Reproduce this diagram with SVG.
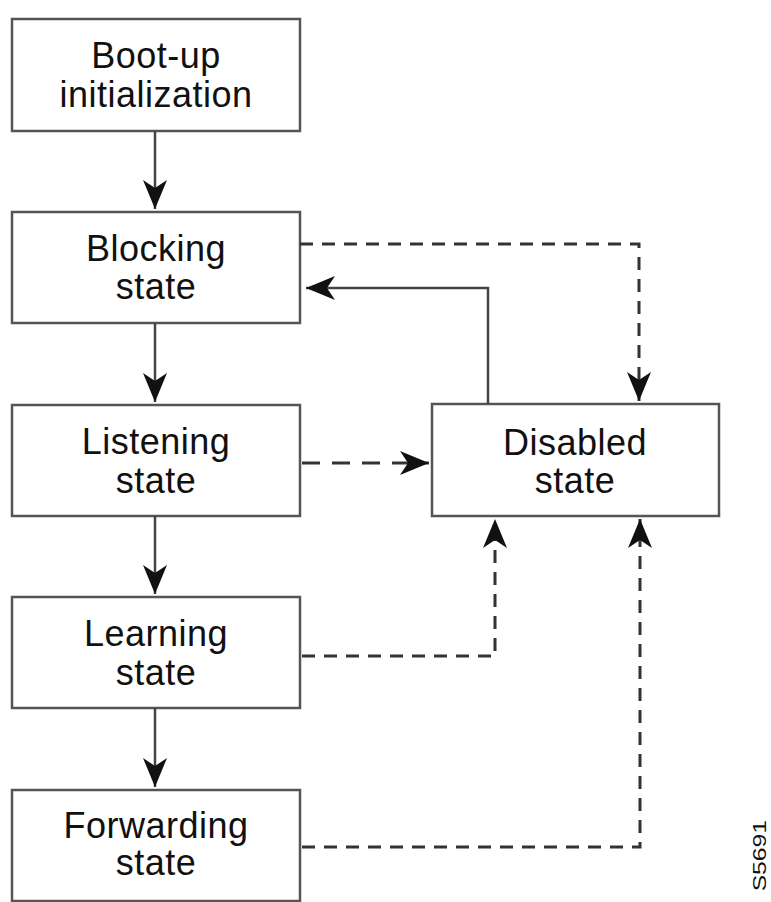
<svg xmlns="http://www.w3.org/2000/svg" width="771" height="902" viewBox="0 0 771 902">
<style>
.box{fill:#fff;stroke:#555;stroke-width:2.5}
.t{font-family:"Liberation Sans",Arial,sans-serif;font-size:36px;fill:#111;text-anchor:middle;letter-spacing:0.5px}
.solid{fill:none;stroke:#444;stroke-width:2.5}
.dash{fill:none;stroke:#333;stroke-width:3;stroke-dasharray:13 9}
</style>
<defs>
<marker id="ah" markerUnits="userSpaceOnUse" markerWidth="32" markerHeight="26" refX="29" refY="12" orient="auto" viewBox="0 0 32 26">
<path d="M0,0 L29,12 L0,24 L8,12 Z" fill="#111"/>
</marker>
</defs>
<rect width="771" height="902" fill="#fff"/>
<g id="bootup"><rect class="box" x="12" y="19" width="288" height="112"/><text class="t" x="156" y="68">Boot-up</text><text class="t" x="156" y="107">initialization</text></g>
<g id="blocking"><rect class="box" x="12" y="212" width="288" height="111"/><text class="t" x="156" y="261">Blocking</text><text class="t" x="156" y="299">state</text></g>
<g id="listening"><rect class="box" x="12" y="405" width="288" height="111"/><text class="t" x="156" y="454">Listening</text><text class="t" x="156" y="493">state</text></g>
<g id="learning"><rect class="box" x="12" y="597" width="288" height="111"/><text class="t" x="156" y="646">Learning</text><text class="t" x="156" y="685">state</text></g>
<g id="forwarding"><rect class="box" x="12" y="790" width="288" height="111"/><text class="t" x="156" y="838">Forwarding</text><text class="t" x="156" y="875">state</text></g>
<g id="disabled"><rect class="box" x="432" y="404" width="287" height="112"/><text class="t" x="575" y="455">Disabled</text><text class="t" x="575" y="493">state</text></g>
<g id="connectors">
<path class="solid" d="M155,131 V209" marker-end="url(#ah)"/>
<path class="solid" d="M155,323 V402" marker-end="url(#ah)"/>
<path class="solid" d="M155,516 V594" marker-end="url(#ah)"/>
<path class="solid" d="M155,708 V787" marker-end="url(#ah)"/>
<path class="solid" d="M488,404 V288 H306" marker-end="url(#ah)"/>
<path class="dash" d="M300,244 H639 V401" marker-end="url(#ah)"/>
<path class="dash" d="M302,463 H429" marker-end="url(#ah)" style="stroke-dasharray:18 12"/>
<path class="dash" d="M302,656 H495 V519" marker-end="url(#ah)"/>
<path class="dash" d="M302,847 H640 V519" marker-end="url(#ah)"/>
</g>
<text transform="translate(766,820) rotate(-90) scale(1.3,1)" style="font-family:'Liberation Sans',Arial,sans-serif;font-size:19px;fill:#111;text-anchor:end">S5691</text>
</svg>
